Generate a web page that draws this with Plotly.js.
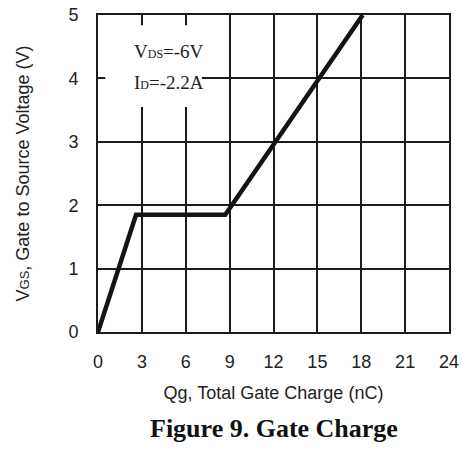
<!DOCTYPE html>
<html>
<head>
<meta charset="utf-8">
<script src="https://cdn.plot.ly/plotly-3.0.1.min.js"></script>
<style>html,body{margin:0;padding:0;background:#fff;}#chart{width:462px;height:450px;}</style>
</head>
<body>
<div id="chart"></div>
<script>
// Gate charge curve (Qg in nC, VGS in V)
const qg = [0, 2.6, 8.7, 18.1];
const vgs = [0, 1.85, 1.85, 5];
const xTicks = [0, 3, 6, 9, 12, 15, 18, 21, 24];
const yTicks = [0, 1, 2, 3, 4, 5];
const noteLines = ["V<span style='font-size:12px'>DS</span>=-6V", "I<span style='font-size:12px'>D</span>=-2.2A"];

const sans = "'Liberation Sans', Arial, sans-serif";
const serif = "'Liberation Serif', 'Times New Roman', serif";
const dark = '#1c1c1c';

const trace = {
  x: qg, y: vgs, type: 'scatter', mode: 'lines',
  line: {color: '#141414', width: 4.5},
  hoverinfo: 'skip', showlegend: false
};

const layout = {
  width: 462, height: 450,
  margin: {l: 98, r: 13, t: 15, b: 118},
  paper_bgcolor: '#fff', plot_bgcolor: '#fff',
  showlegend: false,
  xaxis: {
    range: [0, 24], tickvals: xTicks, ticktext: xTicks.map(String),
    showgrid: true, gridcolor: dark, gridwidth: 2,
    showline: true, linecolor: dark, linewidth: 2, mirror: true,
    zeroline: false, ticks: '', ticklabelstandoff: 12,
    tickfont: {family: sans, size: 18, color: '#222'},
    title: {text: 'Qg, Total Gate Charge (nC)', font: {family: sans, size: 18, color: '#222'}, standoff: 16}
  },
  yaxis: {
    range: [0, 5], tickvals: yTicks, ticktext: yTicks.map(String),
    showgrid: true, gridcolor: dark, gridwidth: 2,
    showline: true, linecolor: dark, linewidth: 2, mirror: true,
    zeroline: false, ticks: '', ticklabelstandoff: 14,
    tickfont: {family: sans, size: 18, color: '#222'},
    title: {text: "V<span style='font-size:13px'>GS</span>, Gate to Source Voltage (V)", font: {family: sans, size: 18, color: '#222'}, standoff: 34}
  },
  shapes: [
    {type: 'rect', xref: 'x', yref: 'y', x0: 0.5, x1: 7.1, y0: 3.55, y1: 4.84,
     fillcolor: '#fff', line: {width: 0}, layer: 'above'}
  ],
  annotations: [
    {xref: 'x', yref: 'y', x: 2.3, y: 4.42, xanchor: 'left', text: noteLines[0], showarrow: false,
     font: {family: serif, size: 19, color: '#222'}},
    {xref: 'x', yref: 'y', x: 2.3, y: 3.94, xanchor: 'left', text: noteLines[1], showarrow: false,
     font: {family: serif, size: 19, color: '#222'}},
    {xref: 'paper', yref: 'paper', x: 0.5, y: -0.305, xanchor: 'center', yanchor: 'middle',
     text: '<b>Figure 9. Gate Charge</b>', showarrow: false,
     font: {family: serif, size: 26, color: '#111'}}
  ]
};

Plotly.newPlot('chart', [trace], layout, {displayModeBar: false, staticPlot: true});
</script>
</body>
</html>
